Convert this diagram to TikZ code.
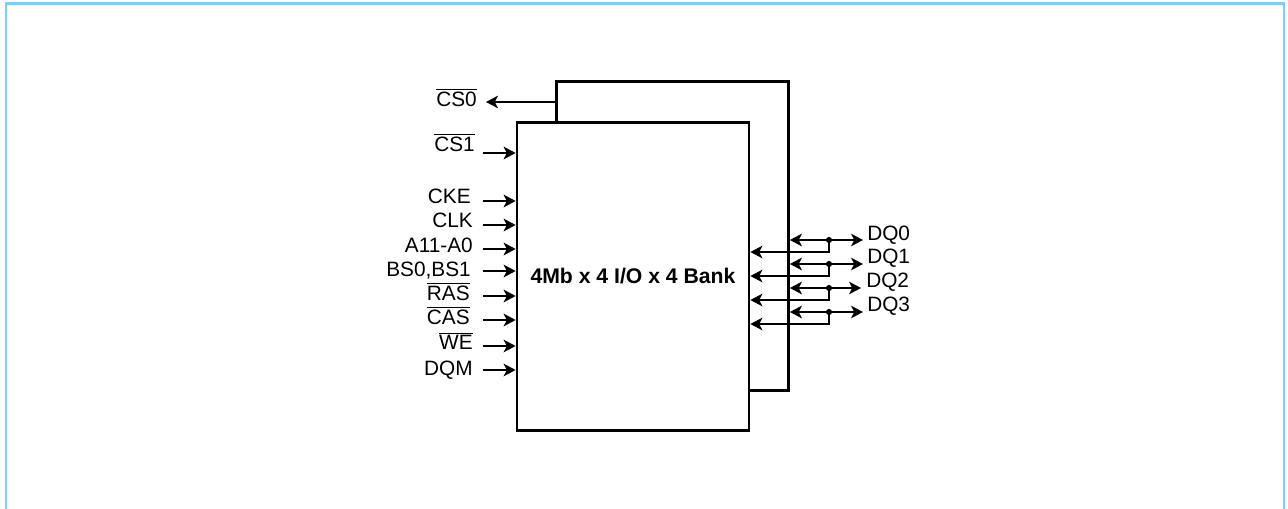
\documentclass[tikz,border=0pt]{standalone}
\usepackage{fontspec}
\setmainfont{Liberation Sans}
\usetikzlibrary{arrows.meta}
\definecolor{framecol}{HTML}{80CCFF}
\tikzset{
    x=0.75pt, y=-0.75pt,
    chip/.style={draw, line width=2.1pt, fill=white, minimum width=174pt, minimum height=231.5pt, inner sep=0pt},
    sig/.style={line width=1.1pt, -{Stealth[length=9pt, width=9.5pt, inset=2.4pt]}},
    sigboth/.style={line width=1.1pt, {Stealth[length=9pt, width=9.5pt, inset=2.4pt]}-{Stealth[length=9pt, width=9.5pt, inset=2.4pt]}},
    pinleft/.style={anchor=base east, inner sep=0pt, font=\fontsize{15.6pt}{18pt}\selectfont},
    pinright/.style={anchor=base west, inner sep=0pt, font=\fontsize{15.6pt}{18pt}\selectfont},
    junction/.style={circle, fill, inner sep=0pt, minimum size=4.6pt},
}
\newcommand{\barred}[1]{$\overline{\mbox{#1}}$}

\begin{document}
\begin{tikzpicture}
            \useasboundingbox (0,0) rectangle (1288,508);
            % outer frame, open at the bottom
            \coordinate (fbl) at (6,512);
            \coordinate (ftl) at (6,3.5);
            \coordinate (ftr) at (1284,3.5);
            \coordinate (fbr) at (1284,512);
            \draw[framecol, line width=1.8pt] (fbl) -- (ftl) -- (ftr) -- (fbr);
            % the two chips
            \node[chip] (back) at (672.5,236) {};
            \node[chip, font=\fontsize{15.9pt}{18pt}\selectfont\bfseries] (bank) at (633,276.5) {4Mb x 4 I/O x 4 Bank};
            % left pins
            \node[pinleft] (cs0) at (477,106) {\barred{CS0}};
            \node[pinleft] (cs1) at (475,151) {\barred{CS1}};
            \node[pinleft] (cke) at (471,203) {CKE};
            \node[pinleft] (clk) at (473,227) {CLK};
            \node[pinleft] (addr) at (473,252) {A11-A0};
            \node[pinleft] (bs) at (471,276) {BS0,BS1};
            \node[pinleft] (ras) at (470,300) {\barred{RAS}};
            \node[pinleft] (cas) at (470,324) {\barred{CAS}};
            \node[pinleft] (we) at (473,349) {\barred{WE}};
            \node[pinleft] (dqm) at (473,375) {DQM};
            \coordinate (cs0end) at (486,102);
            \coordinate (cs1start) at (483,153);
            \coordinate (ckestart) at (483,201);
            \coordinate (clkstart) at (483,225);
            \coordinate (addrstart) at (483,249);
            \coordinate (bsstart) at (483,271);
            \coordinate (rasstart) at (483,296);
            \coordinate (casstart) at (483,320);
            \coordinate (westart) at (483,346);
            \coordinate (dqmstart) at (483,370);
            \draw[sig] (back.west |- cs0end) -- (cs0end);
            \draw[sig] (cs1start) -- (bank.west |- cs1start);
            \draw[sig] (ckestart) -- (bank.west |- ckestart);
            \draw[sig] (clkstart) -- (bank.west |- clkstart);
            \draw[sig] (addrstart) -- (bank.west |- addrstart);
            \draw[sig] (bsstart) -- (bank.west |- bsstart);
            \draw[sig] (rasstart) -- (bank.west |- rasstart);
            \draw[sig] (casstart) -- (bank.west |- casstart);
            \draw[sig] (westart) -- (bank.west |- westart);
            \draw[sig] (dqmstart) -- (bank.west |- dqmstart);
            % right pins
            \node[pinright] (dq0) at (867,240) {DQ0};
            \node[pinright] (dq1) at (867,263) {DQ1};
            \node[pinright] (dq2) at (866,287) {DQ2};
            \node[pinright] (dq3) at (867,311) {DQ3};
            \node[junction] (j0) at (829,240) {};
            \node[junction] (j1) at (829,264) {};
            \node[junction] (j2) at (829,288) {};
            \node[junction] (j3) at (829,312) {};
            \coordinate (dq0end) at (863,240);
            \coordinate (dq1end) at (863,264);
            \coordinate (dq2end) at (861,288);
            \coordinate (dq3end) at (863,312);
            \coordinate (in0) at (790,252);
            \coordinate (in1) at (790,276);
            \coordinate (in2) at (790,300);
            \coordinate (in3) at (790,324);
            \draw[sigboth] (back.east |- j0) -- (dq0end);
            \draw[sigboth] (back.east |- j1) -- (dq1end);
            \draw[sigboth] (back.east |- j2) -- (dq2end);
            \draw[sigboth] (back.east |- j3) -- (dq3end);
            \draw[sig] (j0) |- (bank.east |- in0);
            \draw[sig] (j1) |- (bank.east |- in1);
            \draw[sig] (j2) |- (bank.east |- in2);
            \draw[sig] (j3) |- (bank.east |- in3);
        \end{tikzpicture}
\end{document}
